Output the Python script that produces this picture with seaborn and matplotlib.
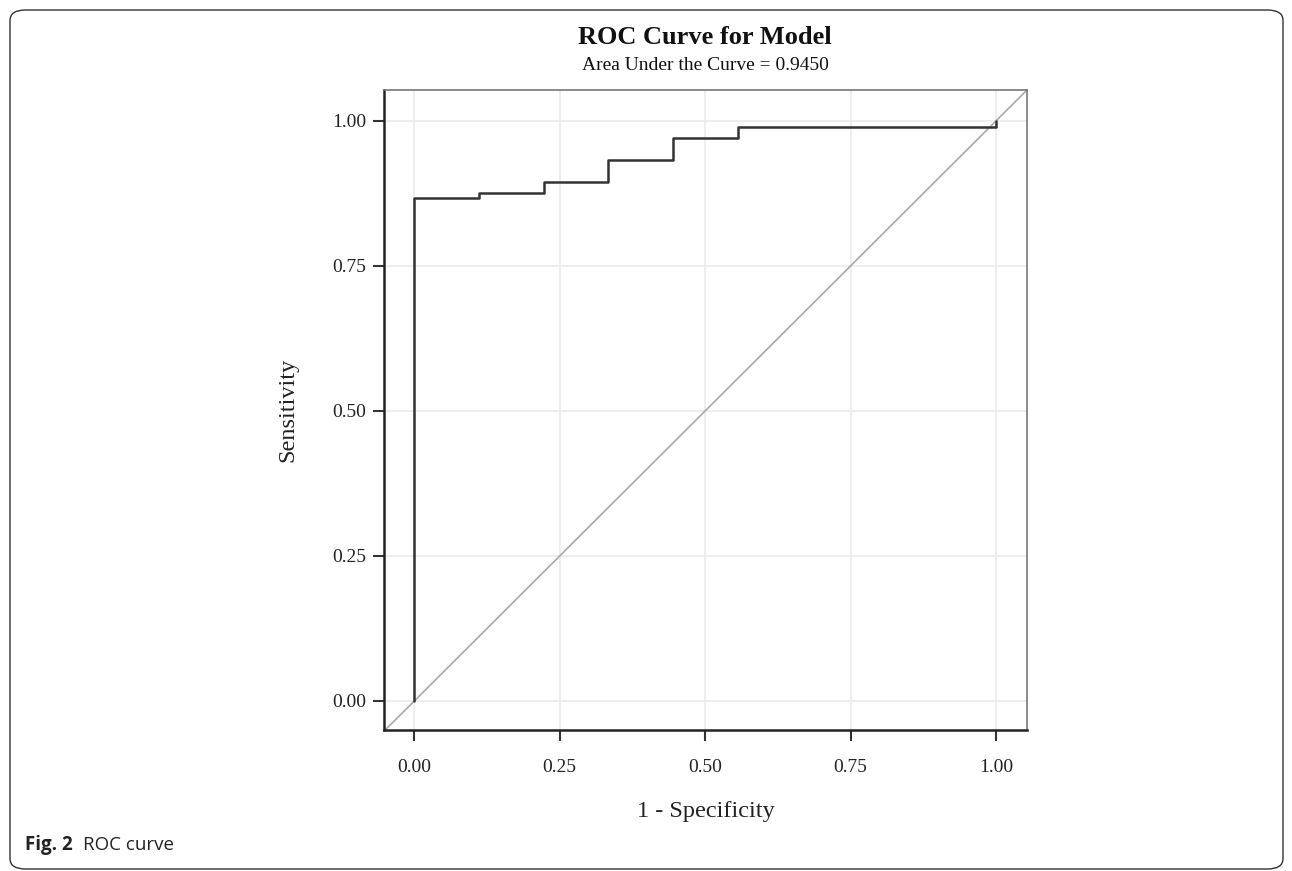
import matplotlib
matplotlib.use("Agg")
import matplotlib.pyplot as plt
import seaborn as sns
import pandas as pd
from matplotlib.patches import FancyBboxPatch

# ROC data (1 - specificity, sensitivity) at each threshold
fpr = [0.0, 0.0, 1/9, 2/9, 3/9, 4/9, 5/9, 1.0]
tpr = [0.0, 0.867, 0.876, 0.895, 0.933, 0.971, 0.990, 1.0]
ticks = [0.0, 0.25, 0.5, 0.75, 1.0]
tick_labels = ["0.00", "0.25", "0.50", "0.75", "1.00"]
auc = 0.9450

sns.set_theme(style="white")
plt.rcParams["font.family"] = ["Liberation Serif", "DejaVu Serif"]

W, H = 1292, 871
fig = plt.figure(figsize=(W/100, H/100), dpi=100)
ax = fig.add_axes([384/W, 1 - 730/H, (1027-384)/W, (730-90)/H])

df = pd.DataFrame({"fpr": fpr, "tpr": tpr})

ax.set_xlim(-0.052, 1.053)
ax.set_ylim(-0.050, 1.053)
for t in ticks:
    ax.axvline(t, color="#ebebeb", lw=1.2, zorder=0)
    ax.axhline(t, color="#ebebeb", lw=1.2, zorder=0)

ax.axline((0, 0), (1, 1), color="#a8a8a8", lw=1.2, zorder=1)
sns.lineplot(data=df, x="fpr", y="tpr", sort=False, estimator=None,
             drawstyle="steps-post", color="#333333", lw=1.8, ax=ax, zorder=2)

ax.set_xticks(ticks)
ax.set_xticklabels(tick_labels)
ax.set_yticks(ticks)
ax.set_yticklabels(tick_labels)
ax.tick_params(axis="both", which="both", direction="out", length=8, width=1.5,
               color="#333333", labelsize=14, labelcolor="#222222", pad=5,
               bottom=True, left=True)
ax.tick_params(axis="x", pad=13)

for s in ["left", "bottom"]:
    ax.spines[s].set_color("#222222")
    ax.spines[s].set_linewidth(1.8)
for s in ["top", "right"]:
    ax.spines[s].set_color("#777777")
    ax.spines[s].set_linewidth(1.2)

ax.set_xlabel("1 - Specificity", fontsize=17.5, color="#222222", labelpad=18)
ax.set_ylabel("Sensitivity", fontsize=17.5, color="#222222", labelpad=24)

fig.text(705/W, 1 - 37/H, "ROC Curve for Model", ha="center", va="center",
         fontsize=19, fontweight="bold", color="#111111")
fig.text(705/W, 1 - 66/H, f"Area Under the Curve = {auc:.4f}", ha="center",
         va="center", fontsize=14, color="#111111")

# figure frame and caption
frame = FancyBboxPatch((10/W, 2/H), (1283-10)/W, (869-10)/H,
                       boxstyle="round,pad=0,rounding_size=0.012",
                       transform=fig.transFigure, fill=False, edgecolor="#333333",
                       lw=1.0, clip_on=False)
fig.patches.append(frame)
fig.text(25/W, 1 - 845/H, "Fig. 2", family="Open Sans", fontweight="bold",
         fontsize=13.5, va="center", ha="left", color="#222222")
fig.text(83/W, 1 - 845/H, "ROC curve", family="Open Sans", fontsize=13.5,
         va="center", ha="left", color="#222222")

fig.savefig("out.png", dpi=100)
